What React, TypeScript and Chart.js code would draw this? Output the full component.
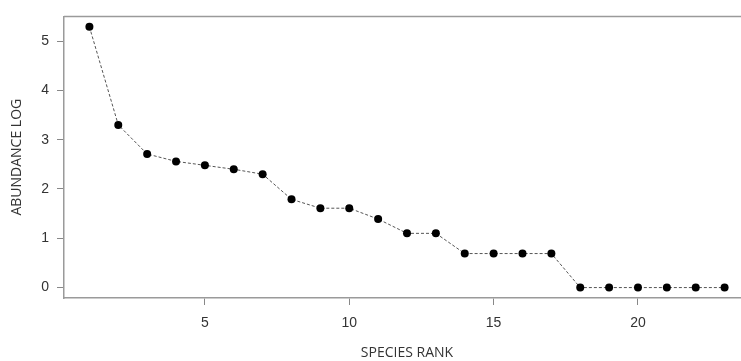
import React, { useEffect, useRef } from "react";
import { Chart, registerables } from "chart.js";

Chart.register(...registerables);

const speciesRank: number[] = [1, 2, 3, 4, 5, 6, 7, 8, 9, 10, 11, 12, 13, 14, 15, 16, 17, 18, 19, 20, 21, 22, 23];
const abundanceLog: number[] = [5.29, 3.30, 2.71, 2.56, 2.48, 2.40, 2.30, 1.79, 1.61, 1.61, 1.39, 1.10, 1.10, 0.69, 0.69, 0.69, 0.69, 0, 0, 0, 0, 0, 0];
const xTickValues: number[] = [5, 10, 15, 20];
const yTickValues: number[] = [0, 1, 2, 3, 4, 5];
const xTitle = "SPECIES RANK";
const yTitle = "ABUNDANCE LOG";

const boxPlugin = {
  id: "boxTopRight",
  afterDraw(chart: any) {
    const { ctx, chartArea } = chart;
    ctx.save();
    ctx.strokeStyle = "#9a9a9a";
    ctx.lineWidth = 1.5;
    ctx.beginPath();
    ctx.moveTo(chartArea.left, chartArea.top);
    ctx.lineTo(chartArea.right, chartArea.top);
    ctx.lineTo(chartArea.right, chartArea.bottom);
    ctx.stroke();
    ctx.restore();
  },
};

export default function App() {
  const ref = useRef<HTMLCanvasElement | null>(null);

  useEffect(() => {
    if (!ref.current) return;
    const chart = new Chart(ref.current, {
      type: "line",
      data: {
        datasets: [
          {
            data: speciesRank.map((x, i) => ({ x, y: abundanceLog[i] })),
            borderColor: "#555555",
            borderWidth: 1,
            borderDash: [3, 2],
            pointRadius: 4,
            pointBackgroundColor: "#000000",
            pointBorderColor: "#000000",
            pointBorderWidth: 0,
            tension: 0,
          },
        ],
      },
      options: {
        animation: false,
        responsive: false,
        devicePixelRatio: 1,
        layout: { padding: { left: 0, top: 15, right: 10, bottom: 0 } },
        plugins: { legend: { display: false }, tooltip: { enabled: false } },
        scales: {
          x: {
            type: "linear",
            min: 0.12,
            max: 23.88,
            afterBuildTicks: (scale: any) => {
              scale.ticks = xTickValues.map((v) => ({ value: v }));
            },
            afterFit: (scale: any) => {
              scale.height = 63;
            },
            grid: { display: true, drawOnChartArea: false, drawTicks: true, tickLength: 7, color: "#888888", lineWidth: 1 },
            border: { display: true, color: "#9a9a9a", width: 1.5 },
            ticks: {
              padding: 10,
              color: "#333333",
              font: { family: "'Liberation Sans', Arial, sans-serif", size: 14 },
              maxRotation: 0,
            },
            title: {
              display: true,
              text: xTitle,
              color: "#333333",
              font: { family: "'Open Sans', sans-serif", size: 14 },
              padding: { top: 0, bottom: 0 },
            },
          },
          y: {
            type: "linear",
            min: -0.2116,
            max: 5.5016,
            afterBuildTicks: (scale: any) => {
              scale.ticks = yTickValues.map((v) => ({ value: v }));
            },
            afterFit: (scale: any) => {
              scale.width = 64;
            },
            grid: { display: true, drawOnChartArea: false, drawTicks: true, tickLength: 7, color: "#888888", lineWidth: 1 },
            border: { display: true, color: "#9a9a9a", width: 1.5 },
            ticks: {
              padding: 8,
              color: "#333333",
              font: { family: "'Liberation Sans', Arial, sans-serif", size: 14 },
            },
            title: {
              display: true,
              text: yTitle,
              color: "#333333",
              font: { family: "'Open Sans', sans-serif", size: 14 },
              padding: { top: 9, bottom: 0 },
            },
          },
        },
      },
      plugins: [boxPlugin],
    } as any);
    return () => chart.destroy();
  }, []);

  return (
    <div style={{ position: "fixed", left: 0, top: 0, width: 741, height: 361, overflow: "hidden", background: "#ffffff" }}>
      <canvas ref={ref} width={760} height={361} style={{ display: "block" }} />
    </div>
  );
}
